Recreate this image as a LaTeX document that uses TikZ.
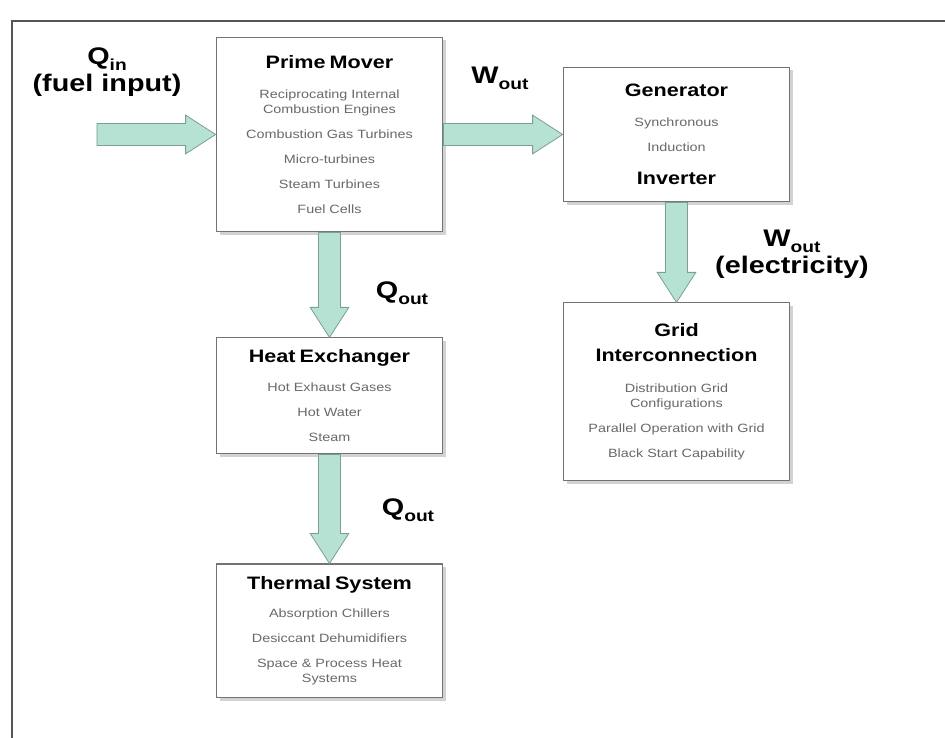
\documentclass[tikz,border=0pt]{standalone}
\usepackage{fontspec}
\setmainfont{Liberation Sans}[FakeStretch=1.2]
\usepackage{tikz}
\usetikzlibrary{positioning, calc, shadows}
\definecolor{boxline}{RGB}{115,115,115}
\definecolor{txtgray}{RGB}{105,105,105}
\definecolor{arrowfill}{RGB}{182,226,211}
\definecolor{arrowline}{RGB}{125,158,148}
\definecolor{framegray}{RGB}{85,85,85}
\newcommand{\bodyfont}{\fontsize{9}{11.25}\selectfont}
\newcommand{\ttlfont}{\fontsize{13.5}{18.75}\selectfont\bfseries\color{black}}
\newcommand{\lblfont}{\fontsize{18}{20}\selectfont\bfseries}
\newcommand{\lowtxt}[1]{\raisebox{-0.45ex}{\fontsize{12}{12}\selectfont #1}}
\newcommand{\shafthw}{8.25pt}
\newcommand{\headhw}{14.5pt}
\newcommand{\headlen}{22.5pt}
\tikzset{
  box/.style={rectangle, draw=boxline, fill=white, line width=0.8pt,
    text width=160pt, align=center, minimum width=170pt, inner sep=2pt,
    font=\bodyfont, text=txtgray,
    drop shadow={shadow xshift=2.5pt, shadow yshift=-2.5pt, fill=black!35}},
  lbl/.style={font=\lblfont, text=black, align=center, inner sep=0pt},
  fatarrow/.style={draw=arrowline, fill=arrowfill, line width=0.6pt,
    to path={let \p1=($(\tikztotarget)!\headlen!(\tikztostart)$) in
      ($(\tikztostart)!\shafthw!90:(\tikztotarget)$)
      -- ($(\p1)!\shafthw!90:(\tikztotarget)$)
      -- ($(\p1)!\headhw!90:(\tikztotarget)$)
      -- (\tikztotarget)
      -- ($(\p1)!\headhw!-90:(\tikztotarget)$)
      -- ($(\p1)!\shafthw!-90:(\tikztotarget)$)
      -- ($(\tikztostart)!\shafthw!-90:(\tikztotarget)$) -- cycle}},
  frameline/.style={draw=framegray, line width=1.3pt}
}
\begin{document}
\begin{tikzpicture}[x=0.75pt, y=-0.75pt]
  \useasboundingbox (0,0) rectangle (945,738);
  \draw[frameline] (12,760) -- (12,21) -- (960,21);

  % blocks
  \node[box, minimum height=146pt] (prime) at (329.5,134.5) {%
    {\ttlfont Prime Mover\par}\vspace{11pt}
    Reciprocating Internal\\Combustion Engines\\[7.5pt]
    Combustion Gas Turbines\\[7.5pt]Micro-turbines\\[7.5pt]
    Steam Turbines\\[7.5pt]Fuel Cells};
  \node[box, minimum height=101pt] (gen) at (676.5,134.5) {%
    {\ttlfont Generator\par}\vspace{11pt}
    Synchronous\\[7.5pt]Induction\par\vspace{6pt}
    {\ttlfont Inverter\par}};
  \node[box, minimum height=87pt, below=78.75pt of prime] (hx) {%
    {\ttlfont Heat Exchanger\par}\vspace{10.5pt}
    Hot Exhaust Gases\\[7.5pt]Hot Water\\[7.5pt]Steam};
  \node[box, minimum height=100pt, below=81.75pt of hx] (thermal) {%
    {\ttlfont Thermal System\par}\vspace{9.5pt}
    Absorption Chillers\\[7.5pt]Desiccant Dehumidifiers\\[7.5pt]
    Space \& Process Heat\\Systems};
  \node[box, minimum height=133pt, below=75pt of gen] (grid) {%
    {\ttlfont Grid\\Interconnection\par}\vspace{12pt}
    Distribution Grid\\Configurations\\[7.5pt]
    Parallel Operation with Grid\\[7.5pt]Black Start Capability};

  % flows
  \coordinate[left=89pt of prime.west] (fuel);
  \draw[fatarrow] (fuel) to (prime.west);
  \draw[fatarrow] (prime.east) to (gen.west);
  \draw[fatarrow] (prime.south) to (hx.north);
  \draw[fatarrow] (hx.south) to (thermal.north);
  \draw[fatarrow] (gen.south) to (grid.north);

  \node[lbl] (qin) at (107,72) {Q\lowtxt{in}\\(fuel input)};
  \node[lbl] (wout) at (500,78) {W\lowtxt{out}};
  \node[lbl] (qoutA) at (402,293) {Q\lowtxt{out}};
  \node[lbl] (qoutB) at (408,510) {Q\lowtxt{out}};
  \node[lbl] (welec) at (792,254) {W\lowtxt{out}\\[0pt](electricity)};
\end{tikzpicture}
\end{document}
